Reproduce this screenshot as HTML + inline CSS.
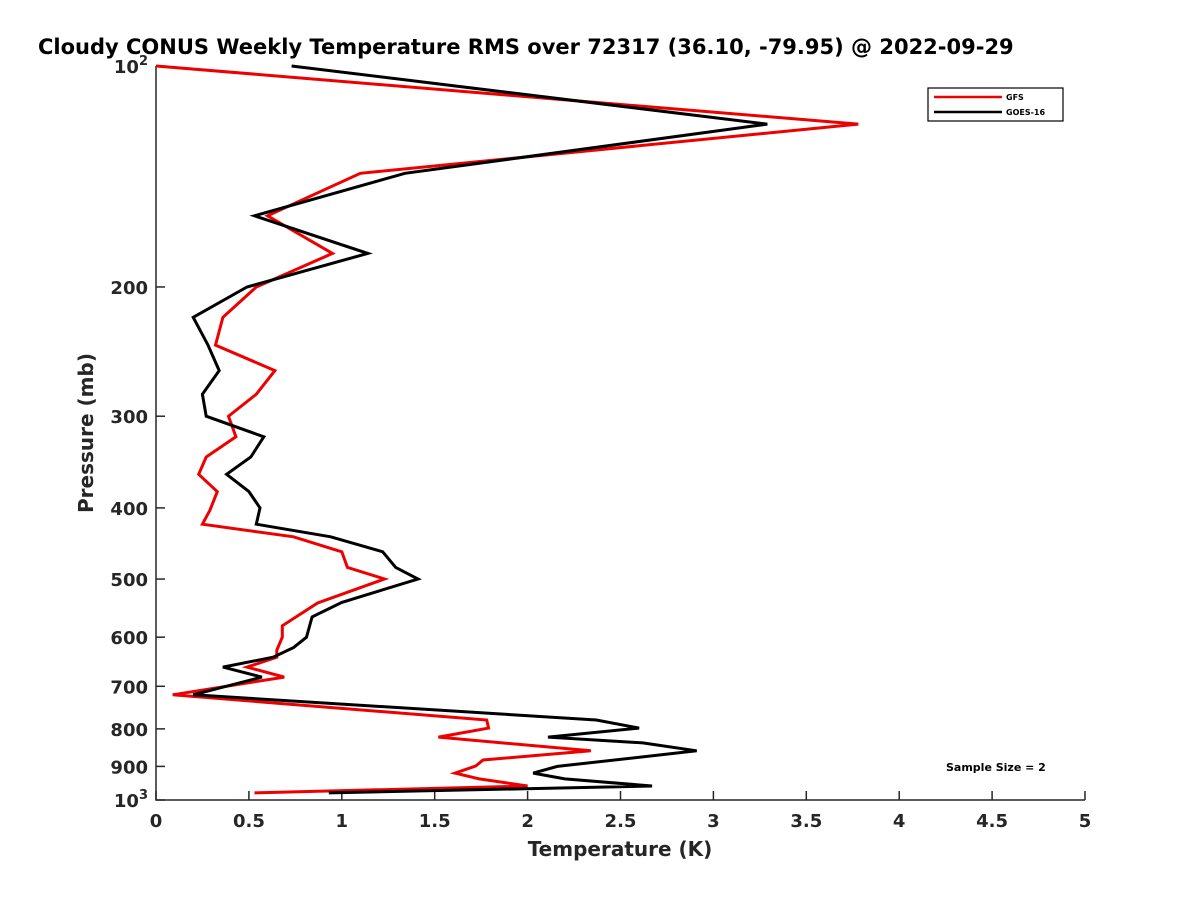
<!DOCTYPE html>
<html><head><meta charset="utf-8"><style>
body{margin:0;background:#fff}
svg text{font-family:"DejaVu Sans","Liberation Sans",sans-serif;font-weight:bold;fill:#262626}
</style></head><body>
<svg id="chart" width="1200" height="900" viewBox="0 0 1200 900" xmlns="http://www.w3.org/2000/svg">
<rect width="1200" height="900" fill="#fff"/>
<text x="38" y="54" font-size="21" style="fill:#000">Cloudy CONUS Weekly Temperature RMS over 72317 (36.10, -79.95) @ 2022-09-29</text>
<g id="axes"></g>
<g id="series"></g>
<text x="620" y="856" font-size="20" text-anchor="middle">Temperature (K)</text>
<text transform="translate(93,433) rotate(-90)" font-size="20" text-anchor="middle">Pressure (mb)</text>
<g>
<rect x="928" y="88" width="135" height="33" fill="#fff" stroke="#000" stroke-width="1.2"/>
<line x1="934" y1="97" x2="1002" y2="97" stroke="#e00" stroke-width="2.5"/>
<text x="1006" y="100" font-size="8" style="fill:#000">GFS</text>
<line x1="934" y1="112" x2="1002" y2="112" stroke="#000" stroke-width="2.5"/>
<text x="1006" y="115" font-size="8" style="fill:#000">GOES-16</text>
</g>
<text x="946" y="771" font-size="11" style="fill:#000">Sample Size = 2</text>
</svg>
<script>
const gfsTemp=[0,3.78,1.10,0.60,0.95,0.54,0.36,0.32,0.64,0.54,0.39,0.43,0.27,0.23,0.33,0.29,0.25,0.74,1.00,1.03,1.23,0.87,0.68,0.68,0.65,0.65,0.49,0.69,0.09,1.78,1.79,1.52,2.34,1.76,1.72,1.61,1.74,2.00,0.53];
const gfsPres=[100,120,140,160,180,200,220,240,260,280,300,320,341,360,380,403,421,438,459,482,500,539,579,600,625,639,659,680,719,778,798,821,857,882,899,919,936,957,978];
const goesTemp=[0.73,3.29,1.34,0.53,1.14,0.49,0.20,0.28,0.34,0.25,0.27,0.58,0.51,0.38,0.50,0.56,0.54,0.94,1.22,1.29,1.41,1.00,0.84,0.81,0.74,0.63,0.36,0.57,0.20,2.37,2.60,2.11,2.62,2.91,2.16,2.03,2.20,2.67,0.93];
const goesPres=[100,120,140,160,180,200,220,240,260,280,300,320,341,360,380,400,421,438,459,482,500,538,563,600,620,639,659,680,719,778,798,821,836,857,900,919,936,957,978];
const xTicks=[0,0.5,1,1.5,2,2.5,3,3.5,4,4.5,5];
const xTickLabels=["0","0.5","1","1.5","2","2.5","3","3.5","4","4.5","5"];
const yTicks=[100,200,300,400,500,600,700,800,900,1000];
const yTickLabels=["10^2","200","300","400","500","600","700","800","900","10^3"];
const X0=156,X1=1085,Y0=66,Y1=800;
const xs=v=>X0+(v-0)/(5-0)*(X1-X0);
const ys=p=>Y0+(Math.log10(p)-2)*(Y1-Y0);
const NS="http://www.w3.org/2000/svg";
const axes=document.getElementById('axes'),ser=document.getElementById('series');
function mk(tag,attrs,parent){const e=document.createElementNS(NS,tag);for(const k in attrs)e.setAttribute(k,attrs[k]);parent.appendChild(e);return e;}
const ax=mk('path',{d:`M${X0},${Y0}V${Y1}H${X1}`,fill:'none',stroke:'#262626','stroke-width':1.5},axes);


xTicks.forEach((v,i)=>{
 const t=mk('line',{x1:xs(v),x2:xs(v),y1:Y1,y2:Y1-9,stroke:'#262626','stroke-width':1.5},axes);
 
 
 const l=mk('text',{x:xs(v),y:Y1+27,'font-size':18,'text-anchor':'middle'},axes);
 
 
 l.textContent=xTickLabels[i];
});
yTicks.forEach((p,i)=>{
 const t=mk('line',{x1:X0,x2:X0+9,y1:ys(p),y2:ys(p),stroke:'#262626','stroke-width':1.5},axes);
 
 
 const l=mk('text',{x:X0-8,y:ys(p)+7,'font-size':18,'text-anchor':'end'},axes);
 
 
 const s=yTickLabels[i];
 if(s.indexOf('^')>0){const [b,e]=s.split('^');l.textContent=b;const sp=mk('tspan',{dy:-8,'font-size':13},l);sp.textContent=e;l.setAttribute('x',X0-8);}
 else l.textContent=s;
});
function line(T,P,color,name){
 const d=T.map((t,i)=>(i?'L':'M')+xs(t).toFixed(1)+','+ys(P[i]).toFixed(1)).join('');
 const p=mk('path',{d:d,fill:'none',stroke:color,'stroke-width':3,'stroke-linejoin':'miter'},ser);
 
 
}
line(gfsTemp,gfsPres,'#e00','gfs-line');
line(goesTemp,goesPres,'#000','goes16-line');
</script>
</body></html>
